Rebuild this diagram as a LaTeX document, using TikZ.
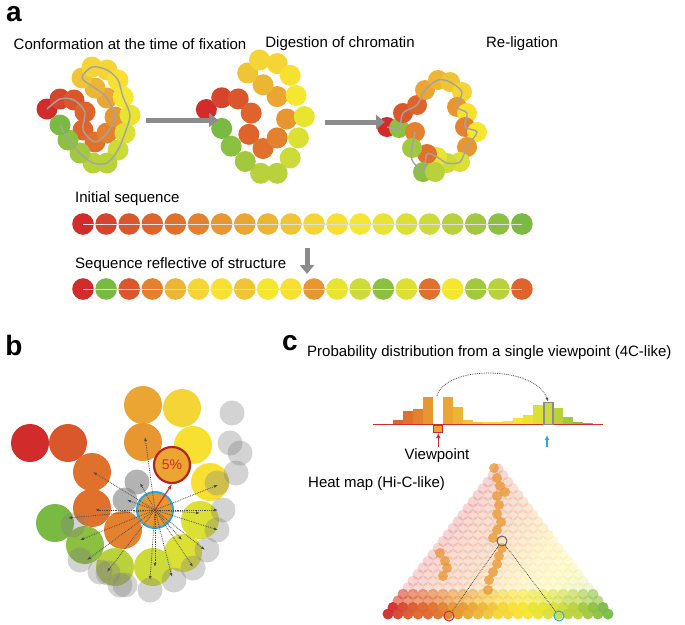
\documentclass[tikz,border=0pt]{standalone}
\usepackage{fontspec}
\setmainfont{Liberation Sans}
\usetikzlibrary{arrows.meta}
\definecolor{s0}{HTML}{D22B2B}\definecolor{s1}{HTML}{D6452B}\definecolor{s2}{HTML}{DA572C}
\definecolor{s3}{HTML}{DE642C}\definecolor{s4}{HTML}{E0712C}\definecolor{s5}{HTML}{E4812E}
\definecolor{s6}{HTML}{E8962F}\definecolor{s7}{HTML}{EAA532}\definecolor{s8}{HTML}{EDB534}
\definecolor{s9}{HTML}{F0C535}\definecolor{s10}{HTML}{F5D535}\definecolor{s11}{HTML}{F8E033}
\definecolor{s12}{HTML}{F5E62F}\definecolor{s13}{HTML}{E8E430}\definecolor{s14}{HTML}{DCE034}
\definecolor{s15}{HTML}{CDDB3A}\definecolor{s16}{HTML}{B9D23C}\definecolor{s17}{HTML}{A2C83F}
\definecolor{s18}{HTML}{8CC041}\definecolor{s19}{HTML}{7ABA43}
\definecolor{arrowgray}{HTML}{8C8C8C}
\definecolor{ringblue}{HTML}{2AA8E0}
\tikzset{
  bead/.style={fill=#1, draw=none},
  chain/.style={draw=arrowgray!80, line width=1.4pt},
  bigarrow/.style={draw=arrowgray, line width=5pt, -{Triangle[length=9pt,width=14pt]}},
  dotarrow/.style={draw=black!70, densely dotted, line width=0.8pt, -{Latex[length=4pt]}},
  caption/.style={font=\fontsize{15}{17}\selectfont, inner sep=0pt},
  panel/.style={font=\fontsize{28}{30}\selectfont\bfseries, inner sep=0pt}
}
\begin{document}
\begin{tikzpicture}[x=1pt, y=-1pt]
  \useasboundingbox (0,0) rectangle (685,624);
  % Panel a: labels
  \node [panel] (pa) at (14,14) {a};
  \node [caption] (fix) at (130,44) {Conformation at the time of fixation};
  \node [caption] (dig) at (340,44) {Digestion of chromatin};
  \node [caption] (relig) at (522,44) {Re-ligation};
  % Panel a: conformation
  \foreach \x/\y [count=\k from 0] in {47/109,60/99,74/100,85/112,83/130,95/142,107/133,115/117,107/98,95/88,82/78,92/67,107/70,118/80,123/97,130/115,125/133,118/150,107/163,93/163,80/153,68/140,60/125}{
    \pgfmathtruncatemacro\ci{round(\k*19/22)}
    \fill [bead=s\ci] (\x,\y) circle (10.5);
  }
  \draw [chain] plot [smooth] coordinates {(47,109) (60,99) (74,100) (85,112) (83,130) (95,142) (107,133) (115,117) (107,98) (95,88) (82,78) (92,67) (107,70) (118,80) (123,97) (130,115) (125,133) (118,150) (107,163) (93,163) (80,153) (68,140) (60,125)};
  % Panel a: digestion
  \foreach \x/\y [count=\k from 0] in {47/109,60/99,74/100,85/112,83/130,95/142,107/133,115/117,107/98,95/88,82/78,92/67,107/70,118/80,123/97,130/115,125/133,118/150,107/163,93/163,80/153,68/140,60/125}{
    \pgfmathtruncatemacro\ci{round(\k*19/22)}
    \pgfmathsetmacro\xx{95+1.18*(\x-95)+168}
    \pgfmathsetmacro\yy{117+1.18*(\y-117)+2}
    \fill [bead=s\ci] (\xx,\yy) circle (10.5);
  }
  % Panel a: re-ligation
  \foreach \x/\y/\c in {387/127/0,399/128/18,403/113/2,417/105/3,425/90/7,438/80/8,450/82/9,462/92/10,457/107/6,467/113/11,465/127/5,477/132/12,467/147/6,460/162/14,447/163/15,437/157/13,427/154/4,423/172/18,435/172/16,415/132/5,412/148/17}{
    \fill [bead=s\c] (\x,\y) circle (10);
  }
  \draw [chain] plot [smooth] coordinates {(387,127) (399,128) (403,113) (417,105) (425,90) (438,80) (450,82) (462,92) (457,107) (467,113) (465,127) (477,132) (467,147) (460,162) (447,163) (437,157) (427,154) (423,172) (412,160) (412,148) (415,132)};
  \coordinate (a1s) at (146,120); \coordinate (a1e) at (218,120);
  \coordinate (a2s) at (325,122); \coordinate (a2e) at (385,122);
  \path [bigarrow] (a1s) -- (a1e);
  \path [bigarrow] (a2s) -- (a2e);
  % Panel a: sequences
  \node [caption, anchor=west] (init) at (75,199) {Initial sequence};
  \foreach \k in {0,...,19}{
    \fill [bead=s\k] (83+\k*23.1,224) circle (10.8);
  }
  \draw [white!75!gray, line width=0.6pt] (83,224) -- (522,224);
  \coordinate (d1) at (307,248); \coordinate (d2) at (307,274);
  \path [bigarrow] (d1) -- (d2);
  \node [caption, anchor=west] (refl) at (75,265) {Sequence reflective of structure};
  \foreach \c [count=\k from 0] in {0,19,2,5,8,10,11,9,12,11,6,13,15,18,14,4,12,17,16,3}{
    \fill [bead=s\c] (83+\k*23.1,289) circle (10.8);
  }
  \draw [white!75!gray, line width=0.6pt] (83,289) -- (522,289);
  % Panel b
  \node [panel] (pb) at (14,345) {b};
  \foreach \x/\y/\c in {30/443/0,68/443/2,92/472/4,92/508/4,123/530/5,143/405/7,143/442/6,182/408/10,193/445/11,210/482/11,200/520/14,183/553/14,153/567/15,115/567/16,85/545/18,55/523/19}{
    \fill [bead=s\c] (\x,\y) circle (19);
  }
  \foreach \x/\y in {232/413,230/443,240/453,236/473,217/483,223/510,217/530,207/550,193/568,174/580,150/590,125/585,100/572,80/560,73/525,108/573,120/585}{
    \fill [gray, opacity=0.35] (\x,\y) circle (12.5);
  }
  \foreach \x/\y in {137/482,125/500}{
    \fill [gray, opacity=0.6] (\x,\y) circle (12.5);
  }
  \node [circle, minimum size=36pt, fill=s6, draw=ringblue, line width=2pt, inner sep=0pt] (vp) at (155,510) {};
  \node [circle, minimum size=36pt, fill=s7, draw=s0!85!black, line width=2.2pt, inner sep=0pt, text=s0, font=\fontsize{14}{15}\selectfont] (hit) at (172,465) {5\%};
  \foreach \x/\y in {145/437,93/472,95/510,68/518,80/540,87/560,107/572,150/580,155/567,172/577,193/567,205/550,182/540,218/530,200/513,218/510,218/485,140/483,127/500}{
    \draw [dotarrow] (vp.center) -- (\x,\y);
  }
  \draw [s0, line width=1.2pt, -{Latex[length=5pt]}] (vp.center) -- (hit.south);
  % Panel c: 4C profile
  \node [panel] (pc) at (290,343) {c};
  \node [caption, anchor=west] (prob) at (307,353) {Probability distribution from a single viewpoint (4C-like)};
  \foreach \h/\c [count=\k from 0] in {0.7/0,0.7/1,4.7/3,14/4,15.7/5,27.3/6,0/7,27.3/7,18/8,4.7/9,2.3/9,2.3/10,2.3/10,4/11,6.7/12,10/13,20/14,22.3/15,16.7/16,8/17,2.3/18,1.3/19,0.7/19}{
    \fill [s\c] (373.3+\k*10,424.5) rectangle ++(9.6,-\h);
  }
  \draw [s0, line width=0.5pt] (373,424.5) -- (603,424.5);
  \node [draw=s0, fill=s7, line width=1.2pt, minimum width=9pt, minimum height=7pt, inner sep=0pt] (vbar) at (438.3,429) {};
  \node [draw=arrowgray, line width=1.5pt, minimum width=9pt, minimum height=22pt, inner sep=0pt] (tbar) at (548.3,413.5) {};
  \coordinate (ra) at (438.3,447); \coordinate (ba) at (547,447);
  \draw [s0, line width=1.5pt, -{Latex[length=5pt,width=5pt]}] (ra) -- (vbar.south);
  \draw [ringblue, line width=1.5pt, -{Latex[length=5pt,width=5pt]}] (ba) -- (547,435);
  \coordinate (cs) at (437,396);
  \draw [dotarrow] (cs) .. controls (445,365) and (535,365) .. (tbar.north);
  \node [caption] (vlab) at (437,456) {Viewpoint};
  \node [caption, anchor=west] (heat) at (308,484) {Heat map (Hi-C-like)};
  % Panel c: heat map
  \foreach \i in {0,...,22}{
    \foreach \j in {\i,...,22}{
      \pgfmathtruncatemacro\ci{ifthenelse(\j-\i<4,round((\i+\j)/2*19/22),round(\i*19/22))}
      \pgfmathsetmacro\op{ifthenelse(\j-\i<2,0.95,ifthenelse(\j-\i<4,0.6,0.2))}
      \fill [s\ci, opacity=\op] (388+5*\i+5*\j,614-6.6*\j+6.6*\i) circle (5.5);
    }
  }
  \foreach \x/\y in {494/468,497/478,500/486,505/492,497/496,499/505,497/514,501/522,497/530,493/538,502/548,499/556,497/564,493/572,489/580,488/590,440/553,445/561,447/568,443/576}{
    \fill [s6, opacity=0.75] (\x,\y) circle (5);
  }
  \node [circle, draw=black!60, line width=1pt, minimum size=10pt, inner sep=0pt] (gc) at (502,541) {};
  \node [circle, draw=s0, line width=1pt, minimum size=10pt, inner sep=0pt] (rc) at (449,616) {};
  \node [circle, draw=ringblue, line width=1pt, minimum size=10pt, inner sep=0pt] (bc) at (559,616) {};
  \draw [black!70, densely dotted, line width=0.8pt] (gc) -- (rc);
  \draw [black!70, densely dotted, line width=0.8pt] (gc) -- (bc);
\end{tikzpicture}
\end{document}
